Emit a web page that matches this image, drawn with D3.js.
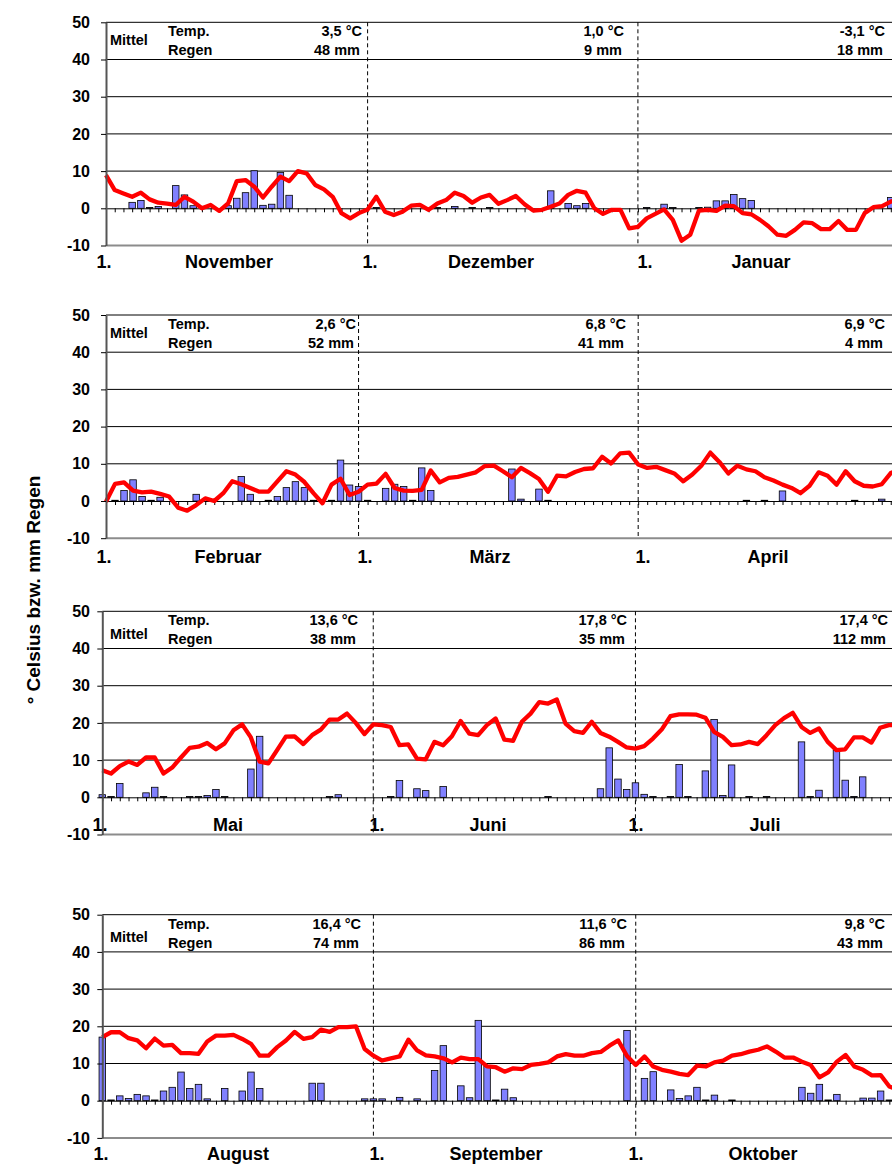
<!DOCTYPE html>
<html>
<head>
<meta charset="utf-8">
<script src="https://cdn.jsdelivr.net/npm/d3@7"></script>
<style>
  body { margin: 0; background: #fff; }
  svg { display: block; font-family: "Liberation Sans", Arial, sans-serif; font-weight: bold; }
</style>
</head>
<body>
<svg id="chart" width="892" height="1165"></svg>
<script>
// Daily mean temperature (°C), one array per month
const tempNov = [8.9,4.9,4.0,3.1,4.2,2.4,1.5,1.25,0.9,3.1,1.8,0,0.9,-0.7,1.3,7.3,7.6,5.8,2.9,5.8,8.5,7.3,10,9.4,6.25,5.1,3.1,-1.3,-2.7,-1.3];
const tempDec = [-0.3,3.1,-0.9,-1.8,-0.9,0.7,0.9,-0.4,1.3,2.2,4.2,3.3,1.5,2.9,3.6,1.2,2.2,3.3,1.1,-0.6,-0.4,0.4,1.3,3.6,4.7,4.2,0,-1.5,-0.4,-0.4,-5.4];
const tempJan = [-5.0,-2.7,-1.5,-0.3,-3.1,-8.7,-7.1,-0.6,-0.4,-0.7,0.7,0.6,-1.3,-1.6,-3.1,-4.9,-7.1,-7.4,-5.8,-3.8,-4.0,-5.6,-5.6,-3.4,-5.8,-5.8,-1.3,0.3,0.6,1.8,2.5];
const tempFeb = [-0.2,4.6,5.0,2.8,2.3,2.5,1.9,1.2,-1.8,-2.6,-1.1,0.7,0,2.1,5.3,4.5,3.5,2.5,2.5,5.3,8.0,7.1,5.1,2.1,-0.6,4.4,6.0,1.6];
const tempMar = [2.5,4.4,4.7,7.3,3.5,2.8,2.7,3.0,8.2,5.0,6.2,6.5,7.1,7.7,9.4,9.5,8.0,6.4,8.9,7.5,5.9,2.5,6.8,6.6,7.8,8.6,8.8,11.9,10.1,12.8,13.0];
const tempApr = [9.8,8.9,9.2,8.3,7.4,5.3,7.1,9.5,13.0,10.5,7.4,9.5,8.5,8.0,6.4,5.5,4.4,3.5,2.1,4.1,7.7,6.8,4.4,8.0,5.3,4.1,3.9,4.5,7.5,8.5];
const tempMay = [7.3,6.4,8.4,9.6,8.7,10.7,10.7,6.4,8.0,10.7,13.3,13.6,14.6,12.9,14.5,18.0,19.6,16.1,9.6,9.1,12.7,16.3,16.4,14.3,16.7,18.2,20.9,20.9,22.5,20.0,17.0];
const tempJun = [19.6,19.4,18.9,14.0,14.2,10.4,10.2,14.9,14.0,16.4,20.5,17.1,16.7,19.4,21.2,15.5,15.2,20.3,22.5,25.6,25.2,26.3,19.8,17.8,17.3,20.3,17.3,16.3,14.9,13.4];
const tempJul = [13.1,13.75,15.8,18.2,21.8,22.3,22.3,22.2,21.4,17.6,16.25,14.0,14.2,14.9,14.3,16.7,19.4,21.3,22.7,18.9,17.3,18.5,14.9,12.7,12.9,16.1,16.1,14.7,18.7,19.4,19.5];
const tempAug = [17.1,18.4,18.4,16.8,16.2,14.1,16.7,14.8,15.0,12.8,12.8,12.6,15.9,17.5,17.5,17.7,16.6,15.3,12.1,12.1,14.4,16.2,18.5,16.6,17.1,19.1,18.5,19.8,19.8,20.0,13.9];
const tempSep = [12.1,10.8,11.4,11.9,16.4,13.5,12.2,11.9,11.4,10.3,11.6,11.2,11.2,9.2,9.0,7.8,8.7,8.5,9.6,9.9,10.3,11.9,12.5,12.1,12.1,12.8,13.1,14.8,16.2,12.0];
const tempOct = [9.6,11.9,9.2,8.3,7.8,7.2,6.9,9.4,9.2,10.3,10.8,12.1,12.5,13.2,13.7,14.6,13.2,11.6,11.6,10.5,9.6,6.3,7.6,10.5,12.3,9.2,8.3,6.8,6.9,3.8,3.0];

// Daily precipitation (mm), one array per month
const rainNov = [0,0,0,1.6,2.1,0.2,0.5,0,6.1,3.6,0.7,0,0,0,0.7,2.7,4.2,10.1,0.8,1.1,9.6,3.5,0,0,0,0,0,0,0,0];
const rainDec = [0,0.2,0,0,0,0,0,0,0.2,0,0.5,0,0.2,0,0.2,0,0,0,0,0,0,4.7,0,1.3,0.7,1.3,0,0,0,0,0];
const rainJan = [0,0.2,0,1.1,0.2,0,0,0.2,0.3,2.0,2.0,3.7,2.6,2.1,0,0,0,0,0,0,0,0,0,0,0,0,0,0,0,2.9,0];
const rainFeb = [0,0.2,2.8,5.7,1.2,0.2,1.0,0,0,0,1.8,0,0,0,0,6.6,1.8,0,0.2,1.2,3.6,5.2,3.6,0.2,0,0.2,11.0,4.3];
const rainMar = [3.9,0.2,0,3.4,4.5,3.9,0.2,8.9,2.8,0,0,0,0,0,0,0,0,8.6,0.5,0,3.2,0.2,0,0,0,0,0,0,0,0,0];
const rainApr = [0,0,0,0,0,0,0,0,0,0,0,0,0.2,0,0.2,0,2.7,0,0,0,0,0,0,0,0.2,0,0,0.5,0,0];
const rainMay = [0.7,0.2,3.7,0,0,1.2,2.7,0.2,0,0,0.2,0.2,0.5,2.1,0.2,0,0,7.6,16.4,0,0,0,0,0,0,0,0.2,0.7,0,0,0];
const rainJun = [0,0,0.2,4.5,0,2.3,1.8,0,2.9,0,0,0,0,0,0,0,0,0,0,0,0.2,0,0,0,0,0,2.3,13.3,4.9,2.1];
const rainJul = [3.9,0.8,0.2,0,0.2,8.8,0.2,0,7.1,20.9,0.5,8.7,0,0.2,0,0.2,0,0,0,14.9,0.2,1.9,0,12.7,4.6,0.2,5.5,0,0,0,20.3];
const rainAug = [17.1,0.2,1.3,0.6,1.7,1.3,0.2,2.6,3.6,7.7,3.3,4.4,0.5,0,3.3,0,2.6,7.7,3.3,0,0,0,0,0,4.7,4.7,0,0,0,0,0.5];
const rainSep = [0.5,0.5,0,0.9,0,0.5,0,8.1,14.8,0,4.0,0.8,21.6,9.2,0.2,3.1,0.8,0,0,0,0,0,0,0,0,0,0,0,0,18.9];
const rainOct = [0,6.0,7.8,0,2.9,0.6,1.3,3.6,0.2,1.5,0,0.2,0,0,0,0,0,0,0,3.6,2.0,4.4,0.2,1.7,0,0,0.7,0.7,2.6,0.2,0];

// Labels
const monthNames = [["November","Dezember","Januar"],["Februar","März","April"],["Mai","Juni","Juli"],["August","September","Oktober"]];
const meanTemp = [["3,5 °C","1,0 °C","-3,1 °C"],["2,6 °C","6,8 °C","6,9 °C"],["13,6 °C","17,8 °C","17,4 °C"],["16,4 °C","11,6 °C","9,8 °C"]];
const sumRain = [["48 mm","9 mm","18 mm"],["52 mm","41 mm","4 mm"],["38 mm","35 mm","112 mm"],["74 mm","86 mm","43 mm"]];
const yTicks = [-10,0,10,20,30,40,50];
const gridValues = [10,20,30,40,50];

const panels = [
  { temp: [tempNov, tempDec, tempJan], rain: [rainNov, rainDec, rainJan] },
  { temp: [tempFeb, tempMar, tempApr], rain: [rainFeb, rainMar, rainApr] },
  { temp: [tempMay, tempJun, tempJul], rain: [rainMay, rainJun, rainJul] },
  { temp: [tempAug, tempSep, tempOct], rain: [rainAug, rainSep, rainOct] }
];

// Panel geometry: y of the 50 line, x of the first day and day spacing
const layout = [
  { top: 22.3,  x0: 106,   step: 8.72,  labelY: 262,  firstX: [104, 370, 645], monthX: [229, 491, 761], valX: [362, 624, 885], mittelDy: 18 },
  { top: 315,   x0: 106,   step: 9.02,  labelY: 557,  firstX: [104, 365, 643], monthX: [228, 490, 768], valX: [356, 626, 885], mittelDy: 18 },
  { top: 611.3, x0: 102.3, step: 8.74,  labelY: 825,  firstX: [100, 377, 636], monthX: [228, 488, 765], valX: [358, 627, 888], mittelDy: 23 },
  { top: 914.7, x0: 102.3, step: 8.745, labelY: 1154, firstX: [101, 377, 636], monthX: [238, 496, 763], valX: [361, 627, 885], mittelDy: 22 }
];
const plotH = 223.2;
const barW = 6.5;
const tickLabelRight = 90;
const W = 892, H = 1165;

const svg = d3.select("#chart");
svg.append("rect").attr("width", W).attr("height", H).attr("fill", "#fff");

panels.forEach((p, k) => {
  const L = layout[k];
  const temp = p.temp.flat();
  const rain = p.rain.flat();
  const N = temp.length;
  const starts = [0, p.temp[0].length, p.temp[0].length + p.temp[1].length];

  const x = d3.scaleLinear().domain([0, N - 1]).range([L.x0, L.x0 + (N - 1) * L.step]);
  const y = d3.scaleLinear().domain([-10, 50]).range([L.top + plotH, L.top]);
  const xEnd = x(N - 1);

  const g = svg.append("g");

  // horizontal gridlines
  g.selectAll("line.grid").data(gridValues).join("line")
    .attr("class", "grid")
    .attr("x1", L.x0).attr("x2", xEnd)
    .attr("y1", d => y(d)).attr("y2", d => y(d))
    .attr("stroke", "#000").attr("stroke-width", 1);

  // lower frame edge at -10
  g.append("line")
    .attr("x1", L.x0).attr("x2", xEnd)
    .attr("y1", y(-10)).attr("y2", y(-10))
    .attr("stroke", "#8c8c8c").attr("stroke-width", 2);

  // dashed month separators
  g.selectAll("line.sep").data(starts.slice(1)).join("line")
    .attr("class", "sep")
    .attr("x1", d => x(d)).attr("x2", d => x(d))
    .attr("y1", y(50)).attr("y2", y(-10))
    .attr("stroke", "#000").attr("stroke-width", 1)
    .attr("stroke-dasharray", "4,3");

  // precipitation bars
  g.selectAll("rect.bar")
    .data(rain.map((v, i) => ({ i, v })).filter(d => d.v > 0))
    .join("rect")
    .attr("class", "bar")
    .attr("x", d => x(d.i) - barW / 2)
    .attr("y", d => y(d.v))
    .attr("width", barW)
    .attr("height", d => y(0) - y(d.v))
    .attr("fill", "#8080ff")
    .attr("stroke", "#000").attr("stroke-width", 0.8);

  // category axis on the zero line with a tick per day
  g.append("g")
    .attr("transform", `translate(0,${y(0)})`)
    .call(d3.axisBottom(x).tickValues(d3.range(N)).tickSize(4).tickSizeOuter(0).tickFormat(""))
    .call(a => a.selectAll("path,line").attr("stroke", "#000"));

  // temperature line
  g.append("path")
    .datum(temp)
    .attr("d", d3.line().x((d, i) => x(i)).y(d => y(d)))
    .attr("fill", "none")
    .attr("stroke", "#ff0000")
    .attr("stroke-width", 4.3)
    .attr("stroke-linejoin", "round");

  // value axis
  const ya = g.append("g")
    .attr("transform", `translate(${L.x0},0)`)
    .call(d3.axisLeft(y).tickValues(yTicks).tickSize(5).tickSizeOuter(0)
      .tickPadding(L.x0 - 5 - tickLabelRight).tickFormat(d => String(d)));
  ya.select(".domain").attr("stroke", "#555").attr("stroke-width", 2);
  ya.selectAll(".tick line").attr("stroke", "#000");
  ya.selectAll(".tick text")
    .attr("font-size", 16).attr("font-weight", "bold")
    .attr("font-family", "'Liberation Sans', Arial, sans-serif")
    .attr("fill", "#000");

  // header: monthly mean temperature and precipitation sum
  const hdr = g.append("g").attr("font-size", 14.5).attr("fill", "#000");
  hdr.append("text").attr("x", 110).attr("y", L.top + L.mittelDy).attr("dy", "0.35em").text("Mittel");
  hdr.append("text").attr("x", 168).attr("y", L.top + 9).attr("dy", "0.35em").text("Temp.");
  hdr.append("text").attr("x", 168).attr("y", L.top + 28).attr("dy", "0.35em").text("Regen");
  meanTemp[k].forEach((t, m) => {
    hdr.append("text").attr("x", L.valX[m]).attr("y", L.top + 9).attr("dy", "0.35em")
      .attr("text-anchor", "end").text(t);
    hdr.append("text").attr("x", L.valX[m] - 2).attr("y", L.top + 28).attr("dy", "0.35em")
      .attr("text-anchor", "end").text(sumRain[k][m]);
  });

  // month labels below the panel
  const lab = g.append("g").attr("font-size", 18).attr("fill", "#000");
  monthNames[k].forEach((name, m) => {
    lab.append("text").attr("x", L.firstX[m]).attr("y", L.labelY).attr("dy", "0.35em")
      .attr("text-anchor", "middle").text("1.");
    lab.append("text").attr("x", L.monthX[m]).attr("y", L.labelY).attr("dy", "0.35em")
      .attr("text-anchor", "middle").text(name);
  });
});

// shared value-axis title
svg.append("text")
  .attr("transform", "translate(33,590) rotate(-90)")
  .attr("text-anchor", "middle")
  .attr("dy", "0.35em")
  .attr("font-size", 19)
  .text("° Celsius bzw. mm Regen");
</script>
</body>
</html>
